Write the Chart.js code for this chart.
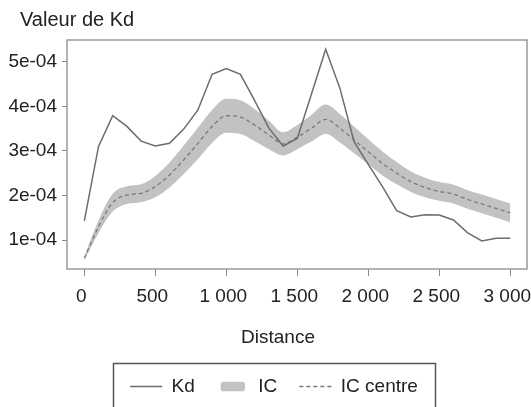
<html>
<head><title>Valeur de Kd</title></head>
<body style="margin:0; background:white;">
<style>
.chartBox {
	width: 531px;
	height: 407px;
	position: relative;
}
</style>
<div class="chartBox">
	<canvas id="myChart"></canvas>
</div>
<script src="https://cdn.jsdelivr.net/npm/chart.js@4.4.1/dist/chart.umd.min.js"></script>
<script>

// distances (m), one point every 100 m
const distance = [0, 100, 200, 300, 400, 500, 600, 700, 800, 900, 1000,
    1100, 1200, 1300, 1400, 1500, 1600, 1700, 1800, 1900, 2000,
    2100, 2200, 2300, 2400, 2500, 2600, 2700, 2800, 2900, 3000];

// values (x 1e-4)
const kd = [1.43, 3.10, 3.79, 3.55, 3.22, 3.11, 3.17, 3.49, 3.92, 4.72, 4.85,
    4.72, 4.13, 3.51, 3.11, 3.28, 4.28, 5.28, 4.41, 3.21, 2.70,
    2.20, 1.66, 1.52, 1.57, 1.56, 1.45, 1.16, 0.98, 1.04, 1.04];
const icCentre = [0.59, 1.30, 1.84, 2.01, 2.05, 2.20, 2.46, 2.80, 3.17, 3.55, 3.79,
    3.76, 3.58, 3.36, 3.16, 3.31, 3.51, 3.71, 3.51, 3.25, 2.98,
    2.72, 2.50, 2.31, 2.18, 2.09, 2.03, 1.91, 1.81, 1.71, 1.61];
const icHigh = [0.64, 1.44, 2.04, 2.21, 2.25, 2.44, 2.74, 3.12, 3.52, 3.92, 4.17,
    4.14, 3.94, 3.68, 3.42, 3.58, 3.81, 4.04, 3.83, 3.55, 3.26,
    2.99, 2.75, 2.54, 2.40, 2.30, 2.24, 2.12, 2.02, 1.92, 1.82];
const icLow = [0.54, 1.16, 1.64, 1.81, 1.85, 1.96, 2.18, 2.48, 2.82, 3.18, 3.41,
    3.38, 3.22, 3.04, 2.90, 3.04, 3.21, 3.38, 3.19, 2.95, 2.70,
    2.45, 2.25, 2.08, 1.96, 1.88, 1.82, 1.70, 1.60, 1.50, 1.40];

// tick labels
const xTicks = [0, 500, 1000, 1500, 2000, 2500, 3000];
const xTickLabels = ['0', '500', '1 000', '1 500', '2 000', '2 500', '3 000'];
const yTicks = [1e-4, 2e-4, 3e-4, 4e-4, 5e-4];
const yTickLabels = ['1e-04', '2e-04', '3e-04', '4e-04', '5e-04'];

const toPoints = (arr) => distance.map((d, i) => ({x: d, y: arr[i] * 1e-4}));

Chart.defaults.font.family = "'Liberation Sans', Arial, sans-serif";
Chart.defaults.font.size = 19;
Chart.defaults.color = '#222';

// box round the plot, texts and legend frame
const extras = {
    id: 'extras',
    afterLayout(chart) {
        // legend a bit to the right, like the original
        chart.legend.left = 21;
    },
    afterDraw(chart) {
        const ctx = chart.ctx;
        const a = chart.chartArea;
        ctx.save();
        ctx.strokeStyle = '#9a9a9a';
        ctx.lineWidth = 1.5;
        ctx.strokeRect(a.left, a.top, a.right - a.left, a.bottom - a.top);

        ctx.fillStyle = '#222';
        ctx.textBaseline = 'middle';
        ctx.textAlign = 'left';
        ctx.font = "20px 'Liberation Sans', Arial, sans-serif";
        ctx.fillText('Valeur de Kd', 20, 20);
        ctx.textAlign = 'center';
        ctx.font = "19px 'Liberation Sans', Arial, sans-serif";
        ctx.fillText('Distance', 278, 338);

        ctx.strokeStyle = '#555';
        ctx.lineWidth = 1.5;
        ctx.strokeRect(113.5, 363.5, 322, 80);
        ctx.restore();
    }
};

const legendRank = [0, 1, 2, 3];

const data = {
    datasets: [{
        label: 'Kd',
        data: toPoints(kd),
        borderColor: '#6c6c6c',
        borderWidth: 1.5,
        pointRadius: 0,
        pointStyle: 'line',
        tension: 0,
        order: 0
    }, {
        label: 'IC',
        data: toPoints(icHigh),
        borderWidth: 0,
        borderColor: 'rgba(0,0,0,0)',
        backgroundColor: '#c2c2c2',
        fill: '+1',
        pointRadius: 0,
        pointStyle: 'rectRounded',
        cubicInterpolationMode: 'monotone',
        order: 2
    }, {
        label: 'IC bas',
        data: toPoints(icLow),
        borderWidth: 0,
        borderColor: 'rgba(0,0,0,0)',
        pointRadius: 0,
        cubicInterpolationMode: 'monotone',
        order: 3
    }, {
        label: 'IC centre',
        data: toPoints(icCentre),
        borderColor: '#7a7a7a',
        borderWidth: 1.3,
        borderDash: [4, 3],
        pointRadius: 0,
        pointStyle: 'line',
        cubicInterpolationMode: 'monotone',
        order: 1
    }]
};

const config = {
    type: 'line',
    data,
    options: {
        responsive: true,
        maintainAspectRatio: false,
        animation: false,
        layout: {
            padding: {left: 0, right: 4, top: 40, bottom: 1}
        },
        plugins: {
            tooltip: {enabled: false},
            legend: {
                position: 'bottom',
                labels: {
                    usePointStyle: true,
                    pointStyleWidth: 32,
                    boxHeight: 8,
                    padding: 22,
                    color: '#222',
                    generateLabels: (chart) => {
                        const items = Chart.defaults.plugins.legend.labels.generateLabels(chart);
                        items.forEach(it => {
                            const ds = chart.data.datasets[it.datasetIndex];
                            it.lineDash = ds.borderDash || [];
                            if (ds.borderWidth) it.lineWidth = ds.borderWidth;
                        });
                        return items;
                    },
                    filter: (item) => item.text !== 'IC bas',
                    sort: (a, b) => legendRank[a.datasetIndex] - legendRank[b.datasetIndex]
                }
            }
        },
        scales: {
            x: {
                type: 'linear',
                min: -122,
                max: 3118,
                border: {display: false},
                grid: {drawOnChartArea: false, tickLength: 7, color: '#888'},
                ticks: {
                    padding: 9,
                    labelOffset: -3,
                    autoSkip: false,
                    maxRotation: 0,
                    callback: (v) => xTickLabels[xTicks.indexOf(v)]
                },
                afterBuildTicks: (s) => { s.ticks = xTicks.map(v => ({value: v})); },
                afterFit: (s) => { s.height = 86; s.paddingLeft = 0; s.paddingRight = 0; }
            },
            y: {
                min: 0.35e-4,
                max: 5.49e-4,
                border: {display: false},
                grid: {drawOnChartArea: false, tickLength: 5, color: '#888'},
                ticks: {
                    padding: 5,
                    callback: (v) => yTickLabels[yTicks.findIndex(t => Math.abs(t - v) < 1e-9)]
                },
                afterBuildTicks: (s) => { s.ticks = yTicks.map(v => ({value: v})); },
                afterFit: (s) => { s.width = 67; s.paddingTop = 0; s.paddingBottom = 0; }
            }
        }
    },
    plugins: [extras]
};

const myChart = new Chart(document.getElementById('myChart'), config);

</script>
</body></html>
